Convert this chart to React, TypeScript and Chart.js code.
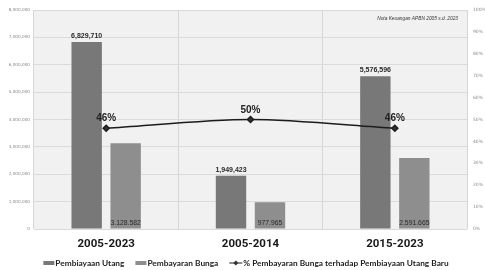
import React, { useEffect, useRef } from "react";
import { Chart, registerables } from "chart.js";

Chart.register(...registerables);

const categories = ["2005-2023", "2005-2014", "2015-2023"];
const pembiayaanUtang = [6829710, 1949423, 5576596];
const pembayaranBunga = [3128582, 977965, 2591665];
const persenBunga = [0.46, 0.5, 0.46];
const leftTicksMax = 8000000;
const leftTickStep = 1000000;
const rightTicksMax = 1;
const rightTickStep = 0.1;
const legendLabels = [
  "Pembiayaan Utang",
  "Pembayaran Bunga",
  "% Pembayaran Bunga terhadap Pembiayaan Utang Baru",
];
const sourceNote = "Nota Keuangan APBN 2005 s.d. 2023";

const COL_UTANG = "#787878";
const COL_BUNGA = "#8e8e8e";
const COL_LINE = "#1c1c1c";

const fmtComma = (v: number) => v.toLocaleString("en-US");
const fmtDot = (v: number) => v.toLocaleString("en-US").replace(/,/g, ".");

const bgPlugin = {
  id: "plotBg",
  beforeDraw(chart: any) {
    const { ctx, chartArea } = chart;
    ctx.save();
    ctx.fillStyle = "#ffffff";
    ctx.fillRect(0, 0, chart.width, chart.height);
    ctx.fillStyle = "#f1f1f1";
    ctx.fillRect(chartArea.left, chartArea.top, chartArea.right - chartArea.left, chartArea.bottom - chartArea.top);
    ctx.restore();
  },
};

const labelPlugin = {
  id: "valueLabels",
  afterDatasetsDraw(chart: any) {
    const { ctx, chartArea } = chart;
    ctx.save();
    ctx.textAlign = "center";
    ctx.textBaseline = "alphabetic";
    const m0 = chart.getDatasetMeta(0);
    m0.data.forEach((el: any, i: number) => {
      ctx.font = "bold 7px 'Liberation Sans', sans-serif";
      ctx.fillStyle = "#2a2a2a";
      ctx.fillText(fmtComma(pembiayaanUtang[i]), el.x, el.y - 4);
    });
    const m1 = chart.getDatasetMeta(1);
    m1.data.forEach((el: any, i: number) => {
      ctx.font = "6.8px 'Liberation Sans', sans-serif";
      ctx.fillStyle = "#2a2a2a";
      ctx.fillText(fmtDot(pembayaranBunga[i]), el.x, el.base - 4);
    });
    const m2 = chart.getDatasetMeta(2);
    m2.data.forEach((el: any, i: number) => {
      ctx.font = "bold 10px 'Liberation Sans', sans-serif";
      ctx.fillStyle = "#222";
      ctx.fillText(Math.round(persenBunga[i] * 100) + "%", el.x, el.y - 7);
    });
    ctx.font = "italic 4.8px 'Liberation Sans', sans-serif";
    ctx.textAlign = "right";
    ctx.fillStyle = "#333";
    ctx.fillText(sourceNote, chartArea.right - 9, chartArea.top + 10);
    ctx.restore();
  },
  afterDraw(chart: any) {
    const { ctx } = chart;
    ctx.save();
    ctx.font = "bold 8.3px Lato, 'DejaVu Sans', sans-serif";
    ctx.textBaseline = "middle";
    ctx.textAlign = "left";
    const y = 263;
    const boxW = 11;
    const markW = 13;
    const gap = 11;
    const widths = legendLabels.map((t) => ctx.measureText(t).width);
    const total =
      boxW + 1 + widths[0] + gap + boxW + 1 + widths[1] + gap + markW + 1 + widths[2];
    let x = 246 - total / 2;
    ctx.fillStyle = COL_UTANG;
    ctx.fillRect(x, y - 2, boxW, 4);
    x += boxW + 1;
    ctx.fillStyle = "#222";
    ctx.fillText(legendLabels[0], x, y);
    x += widths[0] + gap;
    ctx.fillStyle = COL_BUNGA;
    ctx.fillRect(x, y - 2, boxW, 4);
    x += boxW + 1;
    ctx.fillStyle = "#222";
    ctx.fillText(legendLabels[1], x, y);
    x += widths[1] + gap;
    ctx.strokeStyle = COL_LINE;
    ctx.lineWidth = 1;
    ctx.beginPath();
    ctx.moveTo(x, y);
    ctx.lineTo(x + markW, y);
    ctx.stroke();
    const cx = x + markW / 2;
    ctx.fillStyle = "#333";
    ctx.beginPath();
    ctx.moveTo(cx, y - 2.5);
    ctx.lineTo(cx + 2.5, y);
    ctx.lineTo(cx, y + 2.5);
    ctx.lineTo(cx - 2.5, y);
    ctx.closePath();
    ctx.fill();
    x += markW + 1;
    ctx.fillStyle = "#222";
    ctx.fillText(legendLabels[2], x, y);
    ctx.restore();
  },
};

export default function App() {
  const ref = useRef<HTMLCanvasElement | null>(null);
  useEffect(() => {
    document.body.style.margin = "0";
    if (!ref.current) return;
    const chart = new Chart(ref.current, {
      type: "bar",
      data: {
        labels: categories,
        datasets: [
          {
            type: "bar",
            label: legendLabels[0],
            data: pembiayaanUtang,
            backgroundColor: COL_UTANG,
            yAxisID: "y",
            categoryPercentage: 0.54,
            barPercentage: 0.78,
            order: 2,
          },
          {
            type: "bar",
            label: legendLabels[1],
            data: pembayaranBunga,
            backgroundColor: COL_BUNGA,
            yAxisID: "y",
            categoryPercentage: 0.54,
            barPercentage: 0.78,
            order: 2,
          },
          {
            type: "line",
            label: legendLabels[2],
            data: persenBunga,
            yAxisID: "y1",
            borderColor: COL_LINE,
            borderWidth: 1.5,
            backgroundColor: "#333",
            pointStyle: "rectRot",
            pointRadius: 3,
            tension: 0.3,
            order: 1,
          },
        ] as any,
      },
      options: {
        animation: false,
        responsive: false,
        maintainAspectRatio: false,
        layout: { padding: { top: 10, bottom: 17, left: 0, right: 0 } },
        plugins: {
          legend: { display: false },
          tooltip: { enabled: false },
        },
        scales: {
          x: {
            grid: { offset: true, color: "#d6d6d6", drawTicks: false },
            border: { display: false },
            ticks: {
              font: { family: "Roboto, sans-serif", size: 11.5, weight: "bold" },
              color: "#1a1a1a",
              padding: 8,
            },
            afterFit: (s: any) => {
              s.height = 24;
            },
          },
          y: {
            min: 0,
            max: leftTicksMax,
            ticks: {
              stepSize: leftTickStep,
              callback: (v: any) => fmtComma(Number(v)),
              font: { family: "'DejaVu Sans', sans-serif", size: 4.2 },
              color: "#8a8a8a",
              padding: 4,
            },
            grid: { color: "#dadada", drawTicks: false },
            border: { display: false },
            afterFit: (s: any) => {
              s.width = 34;
            },
          },
          y1: {
            position: "right",
            min: 0,
            max: rightTicksMax,
            ticks: {
              stepSize: rightTickStep,
              callback: (v: any) => Math.round(Number(v) * 100) + "%",
              font: { family: "'DejaVu Sans', sans-serif", size: 4.5 },
              color: "#8a8a8a",
              padding: 6,
            },
            grid: { drawOnChartArea: false, drawTicks: false },
            border: { display: false },
            afterFit: (s: any) => {
              s.width = 18;
            },
          },
        },
      } as any,
      plugins: [bgPlugin, labelPlugin],
    });
    return () => chart.destroy();
  }, []);
  return (
    <div style={{ width: 485, height: 270 }}>
      <canvas ref={ref} width={485} height={270} style={{ display: "block" }} />
    </div>
  );
}
